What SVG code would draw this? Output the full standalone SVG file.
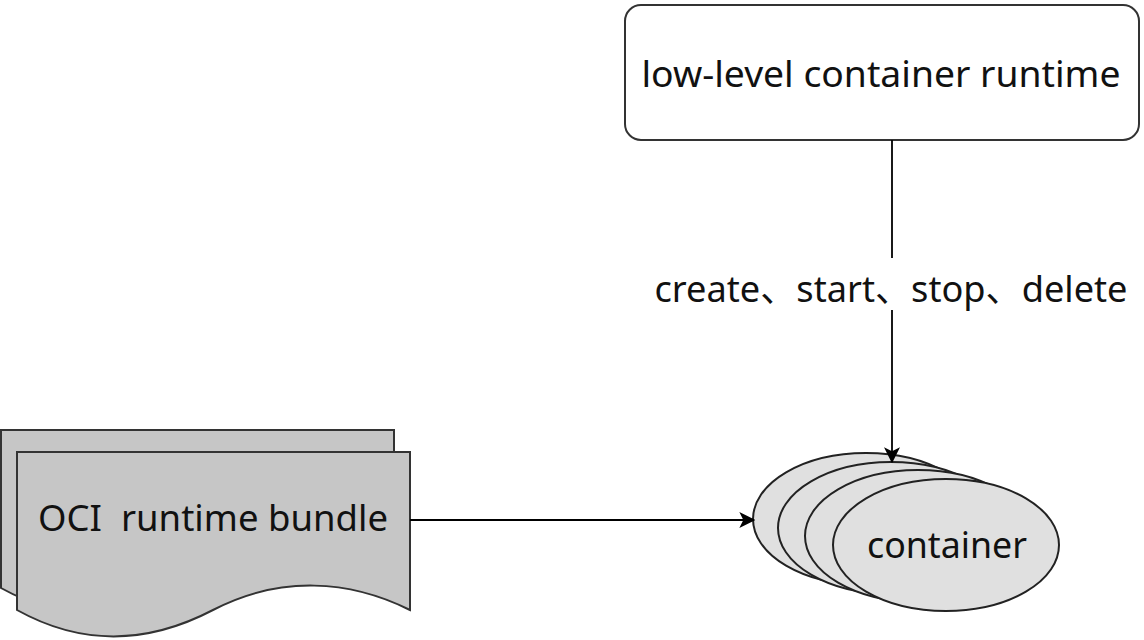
<svg xmlns="http://www.w3.org/2000/svg" width="1144" height="640" viewBox="0 0 1144 640">
<style>
text{font-family:"Noto Sans","Noto Sans CJK SC",sans-serif;font-size:37px;fill:#111;text-anchor:middle}
.doc{fill:#c6c6c6;stroke:#333;stroke-width:2}
.ell{fill:#e0e0e0;stroke:#222;stroke-width:2}
.edge{stroke:#000;stroke-width:1.8;fill:none}
</style>
<defs>
<marker id="arr" viewBox="0 0 12 12" refX="11" refY="6" markerWidth="16" markerHeight="16" markerUnits="userSpaceOnUse" orient="auto">
<path d="M0,0 L12,6 L0,12 L3,6 Z" fill="#000"/>
</marker>
</defs>
<rect width="1144" height="640" fill="#fff"/>
<g id="runtime">
<rect x="625" y="5" width="514" height="135" rx="16" fill="#fff" stroke="#333" stroke-width="2"/>
<text x="881" y="87" textLength="479" lengthAdjust="spacingAndGlyphs">low-level container runtime</text>
</g>
<g id="bundle">
<path class="doc" d="M1,430 L394,430 L394,588 C334,558 264,553 197,588 S64,623 1,588 Z"/>
<path class="doc" d="M17,452 L410,452 L410,610 C350,580 280,575 213,610 S80,645 17,610 Z"/>
<text x="213" y="531" xml:space="preserve" textLength="350" lengthAdjust="spacingAndGlyphs">OCI  runtime bundle</text>
</g>
<g id="containers">
<ellipse class="ell" cx="866" cy="519" rx="113" ry="66"/>
<ellipse class="ell" cx="891" cy="528" rx="113" ry="66"/>
<ellipse class="ell" cx="918" cy="536" rx="113" ry="66"/>
<ellipse class="ell" cx="946" cy="545" rx="113" ry="66"/>
<text x="947" y="558" textLength="160" lengthAdjust="spacingAndGlyphs">container</text>
</g>
<g id="connectors">
<line class="edge" x1="892" y1="140" x2="892" y2="462" marker-end="url(#arr)"/>
<line class="edge" x1="410" y1="520" x2="754" y2="520" marker-end="url(#arr)"/>
<rect x="650" y="258" width="484" height="52" fill="#fff"/>
<text x="891" y="302" textLength="473" lengthAdjust="spacingAndGlyphs">create、start、stop、delete</text>
</g>
</svg>
